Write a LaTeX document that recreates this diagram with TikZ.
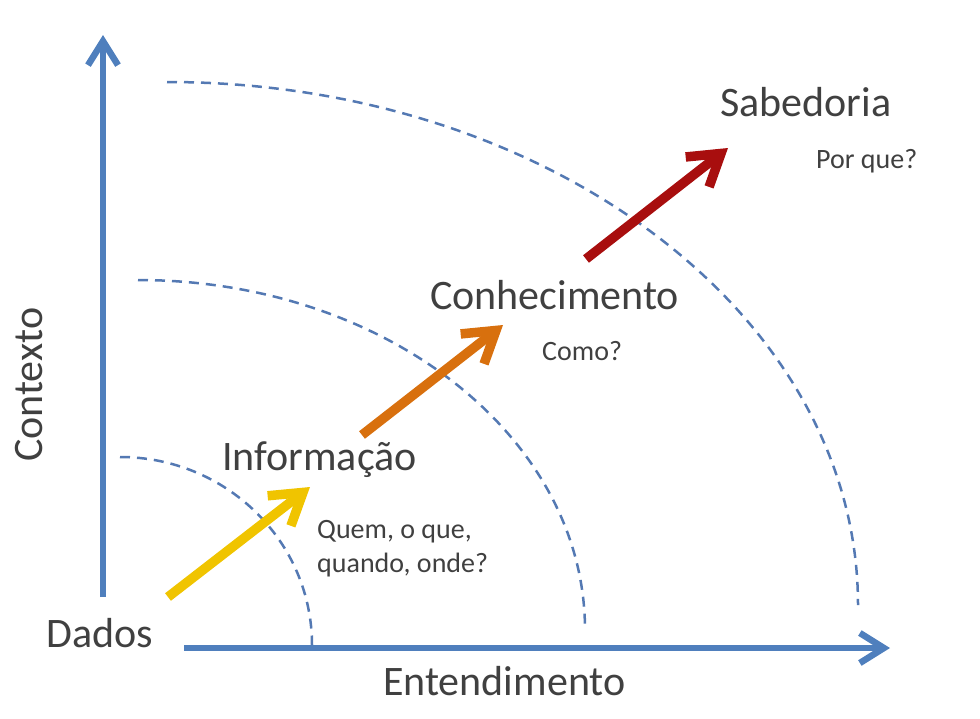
\documentclass[tikz,border=0pt]{standalone}
\usepackage{fontspec}
\setmainfont{Carlito}
\usetikzlibrary{arrows.meta}
\definecolor{txtgray}{HTML}{404040}
\definecolor{axisblue}{HTML}{4F7FBD}
\definecolor{dashblue}{HTML}{5479B3}
\definecolor{dadosyellow}{HTML}{F0C400}
\definecolor{infoorange}{HTML}{D8700E}
\definecolor{conhred}{HTML}{A80E0E}
\begin{document}
\begin{tikzpicture}[x=1pt, y=-1pt,
		big/.style={font=\fontsize{42}{50}\selectfont, text=txtgray, inner sep=0pt, anchor=base west},
		small/.style={font=\fontsize{28}{34}\selectfont, text=txtgray, inner sep=0pt, anchor=base west, align=left},
		axis/.style={axisblue, line width=6.5pt, -{Straight Barb[length=24pt, width=30pt]}},
		ring/.style={dashblue, line width=2.5pt, dash pattern=on 10pt off 7pt},
		stage/.style={line width=9.5pt, -{Straight Barb[length=30pt, width=38pt]}}]
			\useasboundingbox (0,0) rectangle (980,718);

			\coordinate (yb) at (103,597);
			\coordinate (yt) at (103,35);
			\coordinate (xb) at (184,648);
			\coordinate (xt) at (890,648);
			\draw[axis] (yb) to (yt);
			\draw[axis] (xb) to (xt);

			\draw[ring] (120,457) arc[start angle=-90, end angle=0, x radius=192, y radius=188];
			\draw[ring] (138,280) arc[start angle=-90, end angle=0, x radius=447, y radius=350];
			\draw[ring] (167,82) arc[start angle=-90, end angle=0, x radius=691, y radius=523];

			\coordinate (d1) at (168,597);
			\coordinate (d2) at (310,487);
			\draw[stage, dadosyellow] (d1) to (d2);
			\coordinate (i1) at (362,435);
			\coordinate (i2) at (503,325);
			\draw[stage, infoorange] (i1) to (i2);
			\coordinate (c1) at (586,259);
			\coordinate (c2) at (728,148);
			\draw[stage, conhred] (c1) to (c2);

			\node[big] (dados) at (46,647){Dados};
			\node[big] (info) at (222,470){Informação};
			\node[small] (quem) at (317,572){Quem, o que,\\quando, onde?};
			\node[big] (conh) at (430,309){Conhecimento};
			\node[small] (como) at (542,360){Como?};
			\node[big] (sab) at (720,116){Sabedoria};
			\node[small] (porque) at (816,168){Por que?};

			\node[big, rotate=90] (contexto) at (42,462){Contexto};
			\node[big] (entend) at (383,695){Entendimento};
		\end{tikzpicture}
\end{document}
